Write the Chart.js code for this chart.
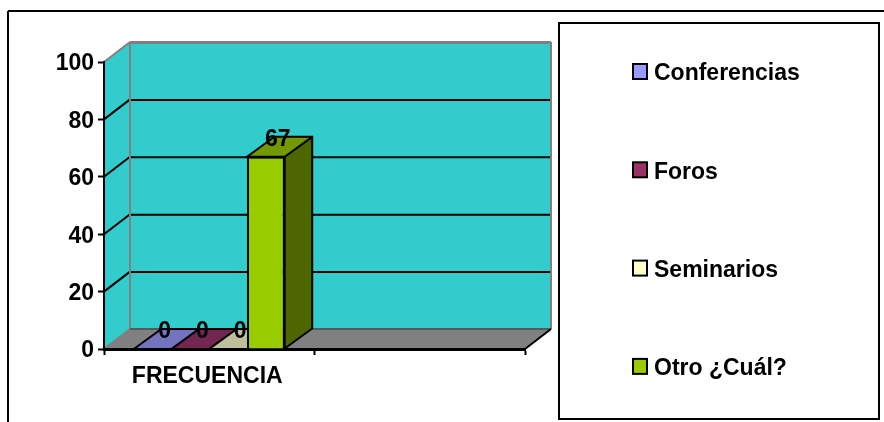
<html>
  <head>
    <meta charset="utf-8">
    <script src="https://cdnjs.cloudflare.com/ajax/libs/Chart.js/4.4.1/chart.umd.js"></script>
    <style>
      body { margin: 0; background: #ffffff; }
      #wrap { position: relative; width: 884px; height: 422px; }
    </style>
  </head>
  <body>
    <div id="wrap"><canvas id="chart" width="884" height="422"></canvas></div>
    <script>
      var categories = ['FRECUENCIA', ''];
      var seriesNames = ['Conferencias', 'Foros', 'Seminarios', 'Otro ¿Cuál?'];
      var frecuencia = [0, 0, 0, 67];
      var yTicks = [0, 20, 40, 60, 80, 100];
      var seriesColors = ['#9999FF', '#993366', '#FFFFCC', '#99CC00'];
      var topColors = ['#7373BF', '#732650', '#BFBF99', '#739900'];
      var sideColors = ['#4D4D80', '#4D1A33', '#808066', '#4D6600'];

      var FONT = 'bold 23px "Liberation Sans", Arial, sans-serif';
      var DX = 26, DY = 20;   // depth of the fake 3d box
      var BAR_DX = 27.5;

      function poly(ctx, pts, fill, stroke, lw) {
        ctx.beginPath();
        ctx.moveTo(pts[0][0], pts[0][1]);
        for (var i = 1; i < pts.length; i++) ctx.lineTo(pts[i][0], pts[i][1]);
        ctx.closePath();
        if (fill) { ctx.fillStyle = fill; ctx.fill(); }
        if (stroke) { ctx.strokeStyle = stroke; ctx.lineWidth = lw; ctx.stroke(); }
      }
      function line(ctx, x1, y1, x2, y2, color, lw) {
        ctx.beginPath();
        ctx.moveTo(x1, y1);
        ctx.lineTo(x2, y2);
        ctx.strokeStyle = color;
        ctx.lineWidth = lw;
        ctx.stroke();
      }

      var box3d = {
        id: 'box3d',
        beforeDraw: function(chart) {
          var ctx = chart.ctx, y = chart.scales.y, a = chart.chartArea;
          var top = y.getPixelForValue(100), bot = y.getPixelForValue(0);
          ctx.save();
          // outer frame
          line(ctx, 8, 11, 884, 11, '#000000', 2);
          line(ctx, 8, 11, 8, 422, '#000000', 2);
          // walls and floor
          poly(ctx, [[a.left, top], [a.left + DX, top - DY], [a.left + DX, bot - DY], [a.left, bot]], '#33CCCC');
          poly(ctx, [[a.left + DX, top - DY], [a.right + DX, top - DY], [a.right + DX, bot - DY], [a.left + DX, bot - DY]], '#33CCCC');
          poly(ctx, [[a.left, bot], [a.right, bot], [a.right + DX, bot - DY], [a.left + DX, bot - DY]], '#808080');
          // gridlines run along side wall and back wall
          for (var i = 0; i < yTicks.length; i++) {
            var py = y.getPixelForValue(yTicks[i]);
            if (yTicks[i] > 0 && yTicks[i] < 100) {
              line(ctx, a.left, py, a.left + DX, py - DY, '#000000', 2);
              line(ctx, a.left + DX, py - DY + 0.5, a.right + DX, py - DY + 0.5, '#000000', 2);
            }
          }
          // wall edges
          line(ctx, a.left, top, a.left + DX, top - DY, '#808080', 2);
          line(ctx, a.left + DX, top - DY + 0.5, a.right + DX, top - DY + 0.5, '#808080', 3);
          line(ctx, a.left + DX, top - DY, a.left + DX, bot - DY, '#808080', 2);
          line(ctx, a.right + DX, top - DY, a.right + DX, bot - DY, '#808080', 2);
          line(ctx, a.left, bot, a.left + DX, bot - DY, '#808080', 2);
          line(ctx, a.left + DX, bot - DY, a.right + DX, bot - DY, '#595959', 2);
          line(ctx, a.right, bot, a.right + DX, bot - DY, '#000000', 2);
          ctx.restore();
        },
        beforeDatasetsDraw: function(chart) {
          var ctx = chart.ctx;
          ctx.save();
          ctx.lineJoin = 'round';
          for (var d = 0; d < chart.data.datasets.length; d++) {
            var b = chart.getDatasetMeta(d).data[0];
            var l = b.x - b.width / 2, r = b.x + b.width / 2;
            poly(ctx, [[r, b.y], [r + BAR_DX, b.y - DY], [r + BAR_DX, b.base - DY], [r, b.base]], sideColors[d], '#000000', 2);
            poly(ctx, [[l, b.y], [r, b.y], [r + BAR_DX, b.y - DY], [l + BAR_DX, b.y - DY]], topColors[d], '#000000', 2);
          }
          ctx.restore();
        },
        afterDraw: function(chart) {
          var ctx = chart.ctx;
          ctx.save();
          // value labels, sit on the back edge of each bar top
          ctx.font = FONT;
          ctx.fillStyle = '#000000';
          ctx.textAlign = 'center';
          ctx.textBaseline = 'middle';
          for (var d = 0; d < chart.data.datasets.length; d++) {
            var b = chart.getDatasetMeta(d).data[0];
            ctx.fillText(String(chart.data.datasets[d].data[0]), b.x + 12, b.y - DY + 3);
          }
          // legend box
          ctx.fillStyle = '#ffffff';
          ctx.fillRect(559, 23, 320, 396);
          ctx.strokeStyle = '#000000';
          ctx.lineWidth = 2;
          ctx.strokeRect(559, 23, 320, 396);
          ctx.textAlign = 'left';
          for (var i = 0; i < seriesNames.length; i++) {
            var cy = 72 + i * 98.3;
            ctx.fillStyle = seriesColors[i];
            ctx.fillRect(633, cy - 8, 14, 15);
            ctx.strokeRect(633, cy - 8, 14, 15);
            ctx.fillStyle = '#000000';
            ctx.fillText(seriesNames[i], 654, cy + 2);
          }
          ctx.restore();
        }
      };

      var datasets = [];
      for (var i = 0; i < seriesNames.length; i++) {
        datasets.push({
          label: seriesNames[i],
          data: [frecuencia[i], null],
          backgroundColor: seriesColors[i],
          borderColor: '#000000',
          borderWidth: 2,
          barPercentage: 1,
          categoryPercentage: 0.717
        });
      }

      var tickFont = { family: '"Liberation Sans", Arial, sans-serif', size: 23, weight: 'bold' };
      var chart = new Chart(document.getElementById('chart'), {
        type: 'bar',
        data: { labels: categories, datasets: datasets },
        plugins: [box3d],
        options: {
          responsive: false,
          animation: false,
          layout: { padding: { left: 0, top: 62, right: 359, bottom: 0 } },
          plugins: { legend: { display: false }, title: { display: false }, tooltip: { enabled: false } },
          scales: {
            x: {
              afterFit: function(s) { s.height = 73; },
              border: { color: '#000000', width: 3 },
              grid: { drawOnChartArea: false, drawTicks: true, tickLength: 6, tickColor: '#000000', tickWidth: 2 },
              ticks: { color: '#000000', font: tickFont, padding: 8, maxRotation: 0, labelOffset: -2 }
            },
            y: {
              min: 0,
              max: 100,
              afterFit: function(s) { s.width = 104; },
              afterBuildTicks: function(s) { s.ticks = yTicks.map(function(v) { return { value: v }; }); },
              border: { color: '#000000', width: 2 },
              grid: { drawOnChartArea: false, drawTicks: true, tickLength: 6, tickColor: '#000000', tickWidth: 2 },
              ticks: { color: '#000000', font: tickFont, padding: 4, labelOffset: 2 }
            }
          }
        }
      });
    </script>
  </body>
</html>
